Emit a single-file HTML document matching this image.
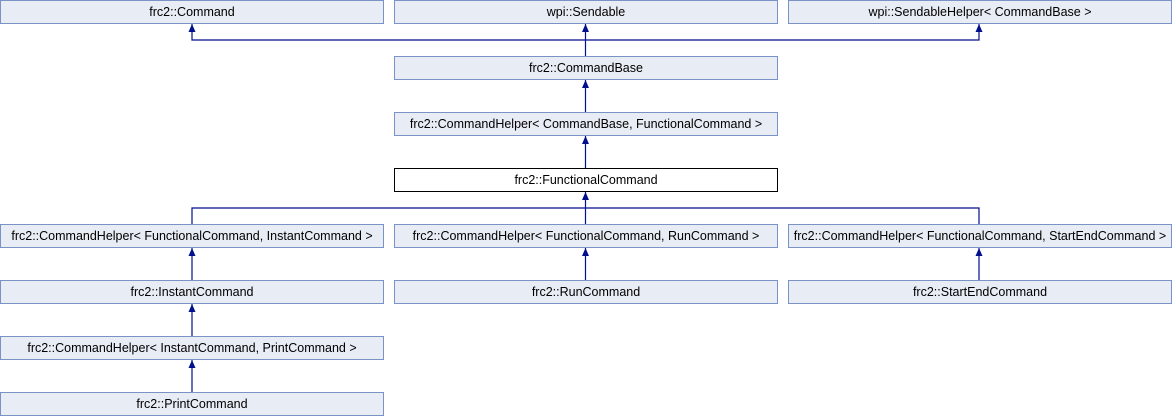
<!DOCTYPE html>
<html><head><meta charset="utf-8"><style>
html,body{margin:0;padding:0;background:#fff;}
svg{display:block;}
text{font-family:"Liberation Sans",sans-serif;font-size:12.5px;fill:#000;text-anchor:middle;}
.b{fill:#e8ecf5;stroke:#7a93c6;stroke-width:1;}
.w{fill:#fff;stroke:#000;stroke-width:1;}
.l{stroke:#000f8c;stroke-width:1.2;fill:none;}
.a{fill:#000f8c;}
</style></head><body>
<svg width="1172" height="416" viewBox="0 0 1172 416">
<path class="l" d="M192,24V40H979V24M585.5,24V56M585.5,80V112M585.5,136V168M585.5,192V224M585.5,208H192V224M585.5,208H979V224M192,248V280M585.5,248V280M979,248V280M192,304V336M192,360V392"/>
<g class="a">
<path d="M192,24l-3.5,8h7z"/><path d="M585.5,24l-3.5,8h7z"/><path d="M979,24l-3.5,8h7z"/>
<path d="M585.5,80l-3.5,8h7z"/><path d="M585.5,136l-3.5,8h7z"/><path d="M585.5,192l-3.5,8h7z"/>
<path d="M192,248l-3.5,8h7z"/><path d="M585.5,248l-3.5,8h7z"/><path d="M979,248l-3.5,8h7z"/>
<path d="M192,304l-3.5,8h7z"/><path d="M192,360l-3.5,8h7z"/>
</g>
<rect class="b" x="0.5" y="0.5" width="383" height="23"/><text x="192" y="16">frc2::Command</text>
<rect class="b" x="394.5" y="0.5" width="383" height="23"/><text x="586" y="16">wpi::Sendable</text>
<rect class="b" x="788.5" y="0.5" width="383" height="23"/><text x="980" y="16">wpi::SendableHelper&lt; CommandBase &gt;</text>
<rect class="b" x="394.5" y="56.5" width="383" height="23"/><text x="586" y="72">frc2::CommandBase</text>
<rect class="b" x="394.5" y="112.5" width="383" height="23"/><text x="586" y="128">frc2::CommandHelper&lt; CommandBase, FunctionalCommand &gt;</text>
<rect class="w" x="394.5" y="168.5" width="383" height="23"/><text x="586" y="184">frc2::FunctionalCommand</text>
<rect class="b" x="0.5" y="224.5" width="383" height="23"/><text x="192" y="240">frc2::CommandHelper&lt; FunctionalCommand, InstantCommand &gt;</text>
<rect class="b" x="394.5" y="224.5" width="383" height="23"/><text x="586" y="240">frc2::CommandHelper&lt; FunctionalCommand, RunCommand &gt;</text>
<rect class="b" x="788.5" y="224.5" width="383" height="23"/><text x="980" y="240">frc2::CommandHelper&lt; FunctionalCommand, StartEndCommand &gt;</text>
<rect class="b" x="0.5" y="280.5" width="383" height="23"/><text x="192" y="296">frc2::InstantCommand</text>
<rect class="b" x="394.5" y="280.5" width="383" height="23"/><text x="586" y="296">frc2::RunCommand</text>
<rect class="b" x="788.5" y="280.5" width="383" height="23"/><text x="980" y="296">frc2::StartEndCommand</text>
<rect class="b" x="0.5" y="336.5" width="383" height="23"/><text x="192" y="352">frc2::CommandHelper&lt; InstantCommand, PrintCommand &gt;</text>
<rect class="b" x="0.5" y="392.5" width="383" height="23"/><text x="192" y="408">frc2::PrintCommand</text>
</svg>
</body></html>
